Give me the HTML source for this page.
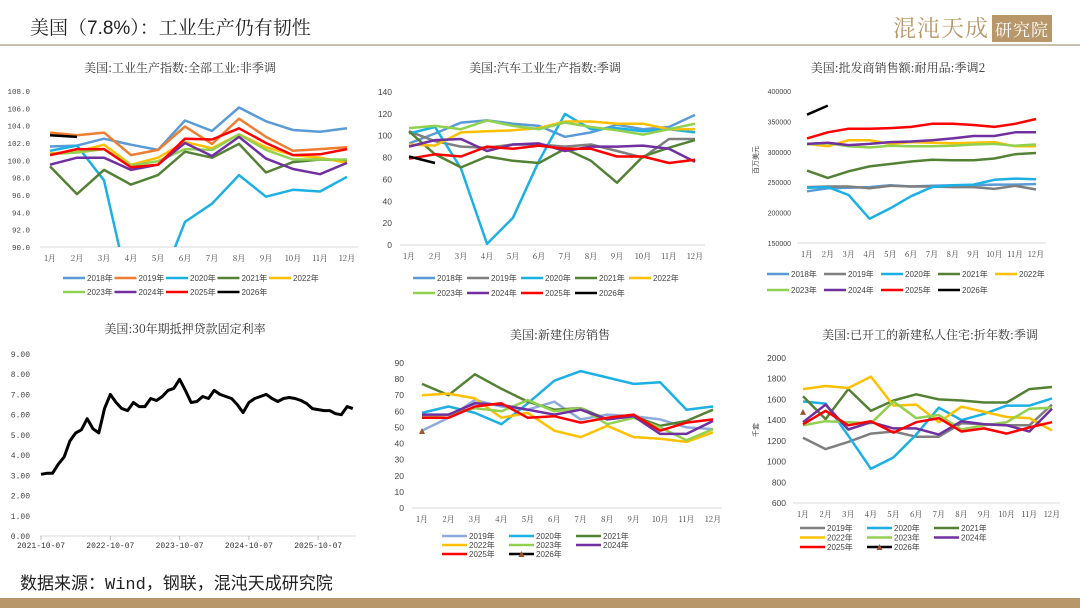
<!DOCTYPE html>
<html><head><meta charset="utf-8">
<style>
html,body{margin:0;padding:0;background:#fff;}
body{width:1080px;height:608px;overflow:hidden;position:relative;font-family:"Liberation Sans","Noto Sans CJK SC",sans-serif;}
#hdr{position:absolute;left:30px;top:13px;font-size:19px;color:#222;font-family:"Liberation Sans","Noto Serif CJK SC",serif;}
#logo{position:absolute;right:28px;top:10px;font-size:23px;color:#b8986a;font-family:"Noto Serif CJK SC",serif;letter-spacing:1px;}
#logo span{background:#b8986a;color:#fff;font-size:17px;padding:1px 3px;margin-left:3px;}
#hline{position:absolute;left:0;top:44px;width:1080px;height:2px;background:#c8c0b0;}
#src{position:absolute;left:20px;top:569px;font-size:17px;color:#222;font-family:"Liberation Mono","Noto Sans CJK SC",monospace;}
#bar{position:absolute;left:0;top:598px;width:1080px;height:10px;background:#b8986a;}
svg{position:absolute;left:0;top:0;}
</style></head>
<body>
<div id="hdr">美国（7.8%）：工业生产仍有韧性</div>
<div id="logo">混沌天成<span>研究院</span></div>
<div id="hline"></div>
<div id="src">数据来源：Wind，钢联，混沌天成研究院</div>
<div id="bar"></div>
<svg id="svg" width="1080" height="608" xmlns="http://www.w3.org/2000/svg"></svg>
<script>
const months = ["1月","2月","3月","4月","5月","6月","7月","8月","9月","10月","11月","12月"];
// Chart 1: IP NSA
const ip2018 = [101.6,101.7,102.5,101.8,101.2,104.6,103.4,106.1,104.5,103.5,103.3,103.7];
const ip2019 = [103.2,102.9,103.2,100.6,101.2,103.9,101.9,104.8,102.7,101.1,101.3,101.5];
const ip2020 = [101.1,101.7,97.7,84.0,85.0,92.9,95.0,98.3,95.8,96.6,96.4,98.1];
const ip2021 = [99.3,96.1,98.9,97.2,98.3,101.0,100.3,101.9,98.6,99.8,100.1,100.0];
const ip2022 = [100.8,101.0,101.8,99.5,100.3,102.1,101.4,103.0,101.5,100.6,100.3,99.7];
const ip2023 = [100.7,100.9,101.3,99.4,99.9,101.3,101.2,103.0,101.2,100.1,100.1,100.1];
const ip2024 = [99.5,100.3,100.3,98.9,99.5,102.0,100.5,102.7,100.2,99.0,98.4,99.7];
const ip2025 = [100.6,101.3,101.3,99.2,99.5,102.5,102.4,103.7,102.0,100.6,100.7,101.3];
const ip2026 = [102.9,102.7];
const ipTicks = [90,92,94,96,98,100,102,104,106,108];
// Chart 2: auto production SA
const au2018 = [93,102,112,114,111,109,99,103,110,106,108,119];
const au2019 = [104,95,90,89,92,92,90,92,86,80,97,97];
const au2020 = [102,108,70,1,25,77,120,106,107,104,106,103];
const au2021 = [104,83,71,81,77,75,88,77,57,81,89,96];
const au2022 = [92,91,103,104,105,107,113,113,111,111,106,106];
const au2023 = [107,109,106,114,109,106,112,108,105,101,106,111];
const au2024 = [90,96,97,86,92,93,86,90,90,91,88,76];
const au2025 = [79,83,81,90,88,91,88,88,81,81,75,78];
const au2026 = [81,75];
const auTicks = [0,20,40,60,80,100,120,140];
// Chart 3: wholesale durable sales
const ws2018 = [235000,240000,241000,242000,245000,243000,244000,245000,245000,246000,246000,247000];
const ws2019 = [242000,243000,243000,240000,244000,243000,243000,242000,242000,239000,244000,238000];
const ws2020 = [241000,242000,229000,190000,207000,227000,242000,245000,246000,254000,256000,255000];
const ws2021 = [269000,257000,268000,276000,280000,284000,287000,286000,286000,289000,296000,298000];
const ws2022 = [313000,309000,319000,319000,313000,316000,315000,314000,315000,316000,309000,309000];
const ws2023 = [312000,314000,309000,307000,310000,309000,309000,310000,312000,313000,310000,312000];
const ws2024 = [313000,315000,311000,313000,316000,317000,319000,322000,326000,326000,332000,332000];
const ws2025 = [322000,332000,338000,338000,339000,341000,346000,346000,344000,341000,346000,354000];
const ws2026 = [361000,376000];
const wsTicks = [150000,200000,250000,300000,350000,400000];
// Chart 4: 30y mortgage rate (monthly from 2021-10)
const mgDates = ["2021-10-07","2022-10-07","2023-10-07","2024-10-07","2025-10-07"];
const mgRate = [3.05,3.1,3.1,3.55,3.9,4.7,5.1,5.25,5.8,5.3,5.1,6.3,7.0,6.6,6.3,6.2,6.6,6.4,6.4,6.8,6.7,6.9,7.2,7.3,7.75,7.2,6.6,6.65,6.9,6.8,7.2,7.0,6.9,6.8,6.5,6.1,6.6,6.8,6.9,7.0,6.8,6.65,6.8,6.85,6.8,6.7,6.55,6.3,6.25,6.2,6.2,6.05,6.0,6.4,6.3];
const mgTicks = [0,1,2,3,4,5,6,7,8,9];
// Chart 5: new home sales
const nh2019 = [48,56,67,63,61,66,55,58,57,55,50,49];
const nh2020 = [59,63,59,52,65,79,85,81,77,78,61,63];
const nh2021 = [77,70,83,74,66,61,62,55,57,51,54,61];
const nh2022 = [70,71,68,56,59,48,44,51,44,43,41,47];
const nh2023 = [57,58,62,60,67,60,62,52,56,50,42,49];
const nh2024 = [58,58,65,64,61,58,61,55,57,46,46,54];
const nh2025 = [56,56,63,65,56,57,53,56,58,48,53,55];
const nh2026 = [47.8];
const nhTicks = [0,10,20,30,40,50,60,70,80,90];
// Chart 6: housing starts
const hs2019 = [1230,1120,1190,1270,1290,1240,1240,1370,1360,1350,1350,1550];
const hs2020 = [1580,1560,1250,930,1040,1260,1520,1400,1460,1540,1540,1610];
const hs2021 = [1630,1410,1700,1490,1590,1650,1600,1590,1570,1570,1700,1720];
const hs2022 = [1700,1730,1710,1820,1540,1550,1380,1530,1480,1430,1420,1300];
const hs2023 = [1350,1390,1380,1370,1580,1420,1450,1310,1350,1380,1510,1520];
const hs2024 = [1380,1550,1310,1380,1320,1320,1260,1390,1360,1350,1290,1510];
const hs2025 = [1360,1490,1350,1390,1280,1380,1420,1290,1320,1270,1330,1380];
const hs2026 = [1480];
const hsTicks = [600,800,1000,1200,1400,1600,1800,2000];

const C = {b18:"#5b9bd5",o19:"#ed7d31",g19:"#7f7f7f",c20:"#1cb0e4",g21:"#548235",y22:"#ffc000",l23:"#92d050",p24:"#7030a0",r25:"#ff0000",k26:"#000000"};
const NS="http://www.w3.org/2000/svg";
const svg=document.getElementById('svg');
function el(tag,attrs,parent){const e=document.createElementNS(NS,tag);for(const k in attrs)e.setAttribute(k,attrs[k]);(parent||svg).appendChild(e);return e;}
function txt(s,x,y,size,anchor,parent,fill,fam){const t=el('text',{x:x,y:y,'font-size':size,'text-anchor':anchor||'start',fill:fill||'#333','font-family':fam||'"Liberation Sans","Noto Sans CJK SC",sans-serif'},parent);t.textContent=s;return t;}

let clipId=0;
function chart(cfg){
  const g=el('g',{});
  
  
  const t=txt(cfg.title,cfg.tx,cfg.ty,12,'middle',g,'#333','"Noto Serif CJK SC","Noto Sans CJK SC",serif');
  
  
  const ymin=cfg.ticks[0],ymax=cfg.ticks[cfg.ticks.length-1];
  const ys=v=>cfg.y0+(cfg.y1-cfg.y0)*(v-ymin)/(ymax-ymin);
  const n=cfg.n||12;
  const xs=i=>cfg.x0+(cfg.x1-cfg.x0)*i/(n-1);
  cfg.ticks.forEach(v=>{
    const l=txt(cfg.fmt(v),cfg.lx,ys(v)+3,cfg.tfs||8.5,'end',g,'#444',cfg.tfam);
    
    
  });
  const ax=el('line',{x1:cfg.ax0,x2:cfg.ax1,y1:cfg.y0,y2:cfg.y0,stroke:'#d9d9d9','stroke-width':1},g);
  
  
  if(cfg.xlabels){cfg.xlabels.forEach((s,i)=>{
    const l=txt(s,xs(i),cfg.y0+14,8,'middle',g,'#444','"Noto Serif CJK SC",serif');
    
    
  });}
  if(cfg.ytitle){const yt=txt(cfg.ytitle,0,0,7,'middle',g,'#444');yt.setAttribute('transform','translate('+cfg.ytx+','+cfg.yty+') rotate(-90)');
    
    }
  const cid='clip'+(clipId++);
  const cp=el('clipPath',{id:cid},g);el('rect',{x:cfg.ax0,y:cfg.y1-3,width:cfg.ax1-cfg.ax0,height:cfg.y0-cfg.y1+3},cp);
  const pg=el('g',{'clip-path':'url(#'+cid+')'},g);
  cfg.series.forEach(s=>{
    if(s.data.length===1 && s.marker){
      const x=xs(0),y=ys(s.data[0]);
      const m=el('polygon',{points:(x-3)+','+(y+3)+' '+(x+3)+','+(y+3)+' '+x+','+(y-3),fill:'#a0522d'},g);
      
      
      return;
    }
    const pts=s.data.map((v,i)=>xs(i).toFixed(1)+','+ys(v).toFixed(1)).join(' ');
    const p=el('polyline',{points:pts,fill:'none',stroke:s.color,'stroke-width':cfg.sw||2.5,'stroke-linejoin':'round'},pg);
    
    
  });
  if(cfg.legend){const L=cfg.legend;
    cfg.series.forEach((s,i)=>{
      const r=Math.floor(i/L.cols),c=i%L.cols;
      const x=L.x+c*L.dx,y=L.y+r*L.dy;
      const lg=el('g',{},g);
      
      
      el('line',{x1:x,x2:x+L.len,y1:y,y2:y,stroke:s.color,'stroke-width':2.5},lg);
      if(s.marker) el('polygon',{points:(x+L.len/2-3)+','+(y+3)+' '+(x+L.len/2+3)+','+(y+3)+' '+(x+L.len/2)+','+(y-3),fill:'#a0522d'},lg);
      txt(s.label,x+L.len+2,y+3,8,'start',lg,'#444');
    });
  }
  return {g:g,xs:xs,ys:ys};
}
const f1=v=>v.toFixed(1), f0=v=>String(v);
chart({name:'ip-chart',title:'美国:工业生产指数:全部工业:非季调',tx:180,ty:72,ticks:ipTicks,fmt:f1,
  y0:247,y1:91,x0:50,x1:347,ax0:40,ax1:358,lx:30,tfs:7.5,tfam:'"Liberation Mono",monospace',xlabels:months,
  series:[{label:'2018年',color:C.b18,data:ip2018},{label:'2019年',color:C.o19,data:ip2019},{label:'2020年',color:C.c20,data:ip2020},{label:'2021年',color:C.g21,data:ip2021},{label:'2022年',color:C.y22,data:ip2022},{label:'2023年',color:C.l23,data:ip2023},{label:'2024年',color:C.p24,data:ip2024},{label:'2025年',color:C.r25,data:ip2025},{label:'2026年',color:C.k26,data:ip2026}],
  legend:{x:63,y:278,dx:51.5,dy:14,cols:5,len:22}});
chart({name:'auto-chart',title:'美国:汽车工业生产指数:季调',tx:545,ty:72,ticks:auTicks,fmt:f0,
  y0:245,y1:92,x0:409,x1:695,ax0:400,ax1:705,lx:392,xlabels:months,
  series:[{label:'2018年',color:C.b18,data:au2018},{label:'2019年',color:C.g19,data:au2019},{label:'2020年',color:C.c20,data:au2020},{label:'2021年',color:C.g21,data:au2021},{label:'2022年',color:C.y22,data:au2022},{label:'2023年',color:C.l23,data:au2023},{label:'2024年',color:C.p24,data:au2024},{label:'2025年',color:C.r25,data:au2025},{label:'2026年',color:C.k26,data:au2026}],
  legend:{x:413,y:278,dx:54,dy:15,cols:5,len:22}});
chart({name:'wholesale-chart',title:'美国:批发商销售额:耐用品:季调2',tx:898,ty:72,ticks:wsTicks,fmt:f0,tfs:7,
  y0:243,y1:91,x0:807,x1:1036,ax0:797,ax1:1046,lx:791,xlabels:months,ytitle:'百万美元',ytx:758,yty:160,
  series:[{label:'2018年',color:C.b18,data:ws2018},{label:'2019年',color:C.g19,data:ws2019},{label:'2020年',color:C.c20,data:ws2020},{label:'2021年',color:C.g21,data:ws2021},{label:'2022年',color:C.y22,data:ws2022},{label:'2023年',color:C.l23,data:ws2023},{label:'2024年',color:C.p24,data:ws2024},{label:'2025年',color:C.r25,data:ws2025},{label:'2026年',color:C.k26,data:ws2026}],
  legend:{x:767,y:274,dx:57,dy:16,cols:5,len:22}});
const m=chart({name:'mortgage-chart',title:'美国:30年期抵押贷款固定利率',tx:185,ty:333,ticks:mgTicks,fmt:v=>v.toFixed(2),tfs:8,tfam:'"Liberation Mono",monospace',
  y0:536,y1:354,x0:41,x1:41+69.3/12*(mgRate.length-1),n:mgRate.length,ax0:40,ax1:356,lx:30,sw:3,
  series:[{label:'rate',color:'#000',data:mgRate}]});
mgDates.forEach((d,i)=>{const x=m.xs(i*12);
  const tk=el('line',{x1:x,x2:x,y1:536,y2:540,stroke:'#bbb'},m.g);
  
  
  const l=txt(d,x,548,8,'middle',m.g,'#333','"Liberation Mono",monospace');
  
  });
chart({name:'new-home-sales-chart',title:'美国:新建住房销售',tx:560,ty:339,ticks:nhTicks,fmt:f0,
  y0:508,y1:363,x0:422,x1:713,ax0:412,ax1:722,lx:404,xlabels:months,
  series:[{label:'2019年',color:'#8faadc',data:nh2019},{label:'2020年',color:C.c20,data:nh2020},{label:'2021年',color:C.g21,data:nh2021},{label:'2022年',color:C.y22,data:nh2022},{label:'2023年',color:C.l23,data:nh2023},{label:'2024年',color:C.p24,data:nh2024},{label:'2025年',color:C.r25,data:nh2025},{label:'2026年',color:C.k26,data:nh2026,marker:true}],
  legend:{x:442,y:536,dx:67,dy:9,cols:3,len:25}});
chart({name:'housing-starts-chart',title:'美国:已开工的新建私人住宅:折年数:季调',tx:930,ty:339,ticks:hsTicks,fmt:f0,
  y0:503,y1:358,x0:803,x1:1052,ax0:793,ax1:1060,lx:786,xlabels:months,ytitle:'千套',ytx:758,yty:430,
  series:[{label:'2019年',color:C.g19,data:hs2019},{label:'2020年',color:C.c20,data:hs2020},{label:'2021年',color:C.g21,data:hs2021},{label:'2022年',color:C.y22,data:hs2022},{label:'2023年',color:C.l23,data:hs2023},{label:'2024年',color:C.p24,data:hs2024},{label:'2025年',color:C.r25,data:hs2025},{label:'2026年',color:C.k26,data:hs2026,marker:true}],
  legend:{x:800,y:528,dx:67,dy:9.5,cols:3,len:25}});
</script>
</body></html>
